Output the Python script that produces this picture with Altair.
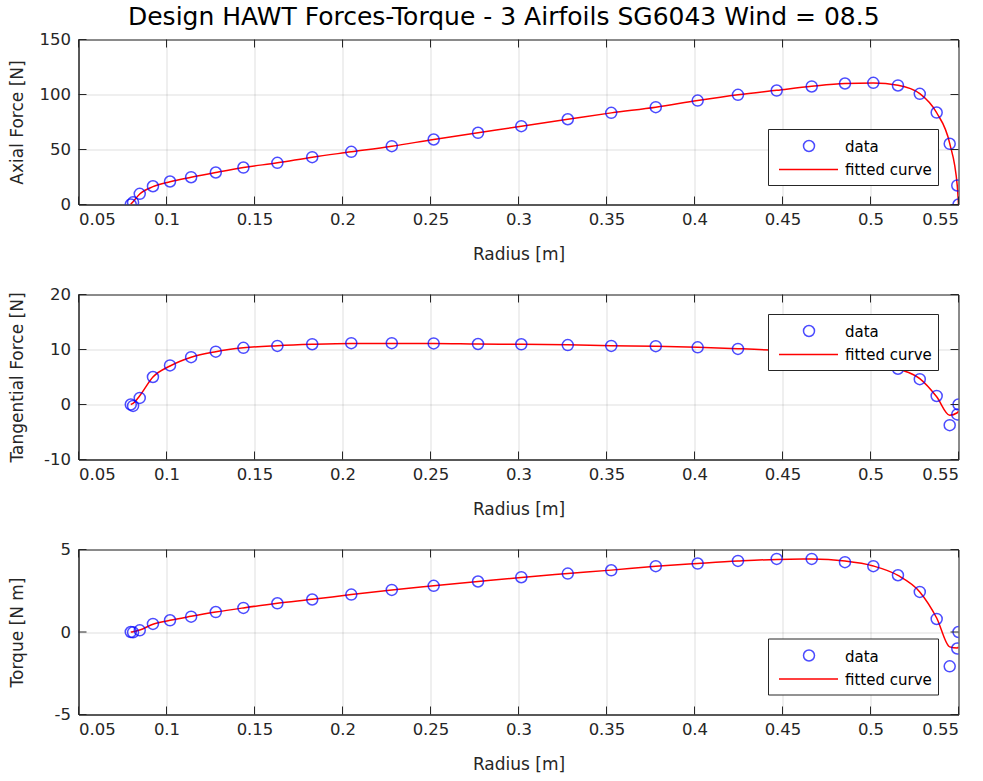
import altair as alt
import pandas as pd

# Blade stations (radius, m)
radius = [0.0797, 0.0810, 0.0848, 0.0923, 0.1020, 0.1140, 0.1280, 0.1437, 0.1630, 0.1828,
          0.2050, 0.2280, 0.2518, 0.2770, 0.3016, 0.3280, 0.3527, 0.3780, 0.4018, 0.4247,
          0.4467, 0.4666, 0.4855, 0.5016, 0.5156, 0.5280, 0.5376, 0.5450, 0.5493, 0.5500]

# Computed loads per station
axial = [0.0, 2.0, 9.7, 16.6, 20.9, 24.8, 29.1, 33.6, 37.9, 43.0,
         47.9, 53.0, 59.1, 65.2, 71.2, 77.5, 83.3, 88.5, 94.5, 99.7,
         103.6, 107.3, 110.0, 110.6, 108.2, 100.6, 83.6, 55.2, 17.3, 0.0]
tangential = [0.0, -0.25, 1.2, 5.0, 7.1, 8.6, 9.6, 10.3, 10.65, 10.96,
              11.15, 11.15, 11.1, 11.0, 10.95, 10.8, 10.65, 10.6, 10.4, 10.1,
              9.9, 9.5, 8.7, 7.95, 6.5, 4.6, 1.55, -3.76, -1.8, 0.0]
torque = [0.0, -0.02, 0.10, 0.49, 0.71, 0.93, 1.21, 1.46, 1.74, 1.97,
          2.27, 2.55, 2.80, 3.06, 3.32, 3.54, 3.74, 3.99, 4.15, 4.31,
          4.43, 4.43, 4.23, 3.99, 3.44, 2.43, 0.79, -2.08, -1.0, 0.0]

# Smoothing-fit values at the same stations
axial_fit = [0.3, 2.6, 9.5, 16.2, 20.7, 24.8, 29.1, 33.6, 37.9, 43.0,
             47.9, 53.0, 59.1, 65.2, 71.2, 77.5, 83.3, 88.5, 94.5, 99.7,
             103.8, 107.5, 110.0, 110.4, 108.4, 100.8, 83.4, 55.5, 17.0, 0.0]
tangential_fit = [0.0, 0.2, 1.6, 5.0, 7.0, 8.6, 9.6, 10.3, 10.7, 10.95,
                  11.1, 11.1, 11.1, 11.0, 10.95, 10.85, 10.7, 10.6, 10.4, 10.15,
                  9.85, 9.45, 8.75, 7.9, 6.5, 4.7, 1.4, -1.95, -1.5, -1.2]
torque_fit = [0.0, 0.02, 0.12, 0.47, 0.71, 0.95, 1.21, 1.46, 1.74, 1.98,
              2.27, 2.55, 2.80, 3.06, 3.31, 3.54, 3.75, 3.98, 4.15, 4.30,
              4.40, 4.42, 4.30, 4.00, 3.43, 2.43, 0.85, -0.90, -0.97, -0.91]

x_ticks = [0.05, 0.1, 0.15, 0.2, 0.25, 0.3, 0.35, 0.4, 0.45, 0.5, 0.55]
axial_ticks = [0, 50, 100, 150]
tangential_ticks = [-10, 0, 10, 20]
torque_ticks = [-5, 0, 5]

TITLE = "Design HAWT Forces-Torque - 3 Airfoils SG6043 Wind = 08.5"
FONT = "DejaVu Sans"
AXIS_COLOR = "#262626"
W, H = 880, 165
TICK_LEN = 8


def panel(values, fit, y_ticks, y_title, legend_top):
    df = pd.DataFrame({"r": radius, "v": values, "fit": fit})
    lo, hi = min(y_ticks), max(y_ticks)
    xs = alt.Scale(domain=[0.05, 0.55], nice=False, zero=False)
    ys = alt.Scale(domain=[lo, hi], nice=False, zero=False)

    x_axis = alt.Axis(values=x_ticks, labelExpr="toString(datum.value)", ticks=False,
                      title="Radius [m]", labelPadding=7, titlePadding=18)
    y_axis = alt.Axis(values=y_ticks, labelExpr="toString(datum.value)", ticks=False,
                      title=y_title, labelPadding=8, titleX=-52)

    base = alt.Chart(df)
    points = base.mark_point(shape="circle", filled=False, size=121, strokeWidth=1.5,
                             color="#0000ff", clip=True).encode(
        x=alt.X("r:Q", scale=xs, axis=x_axis),
        y=alt.Y("v:Q", scale=ys, axis=y_axis),
    )
    curve = base.mark_line(color="#ff0000", strokeWidth=1.5, interpolate="monotone",
                           clip=True).encode(
        x=alt.X("r:Q", scale=xs),
        y=alt.Y("fit:Q", scale=ys),
    )

    # Inward tick marks on all four sides of the box
    xt = alt.Chart(pd.DataFrame({"t": x_ticks}))
    yt = alt.Chart(pd.DataFrame({"t": y_ticks}))
    tick_style = dict(color=AXIS_COLOR, strokeWidth=1)
    ticks = [
        xt.mark_rule(**tick_style).encode(x=alt.X("t:Q", scale=xs), y=alt.value(H), y2=alt.value(H - TICK_LEN)),
        xt.mark_rule(**tick_style).encode(x=alt.X("t:Q", scale=xs), y=alt.value(0), y2=alt.value(TICK_LEN)),
        yt.mark_rule(**tick_style).encode(y=alt.Y("t:Q", scale=ys), x=alt.value(0), x2=alt.value(TICK_LEN)),
        yt.mark_rule(**tick_style).encode(y=alt.Y("t:Q", scale=ys), x=alt.value(W), x2=alt.value(W - TICK_LEN)),
    ]

    # Legend box
    lx0, lx1 = 690, 860
    ly = legend_top
    one = alt.Chart(pd.DataFrame({"k": [0]}))
    legend = [
        one.mark_rect(fill="white", stroke=AXIS_COLOR, strokeWidth=1).encode(
            x=alt.value(lx0), x2=alt.value(lx1), y=alt.value(ly), y2=alt.value(ly + 56)),
        one.mark_point(shape="circle", filled=False, size=121, strokeWidth=1.5, color="#0000ff").encode(
            x=alt.value(730.5), y=alt.value(ly + 16.5)),
        one.mark_rule(color="#ff0000", strokeWidth=1.5).encode(
            x=alt.value(700.5), x2=alt.value(759.5), y=alt.value(ly + 40)),
        one.mark_text(text="data", align="left", baseline="middle", font=FONT, fontSize=15,
                      color="black").encode(x=alt.value(766.5), y=alt.value(ly + 17.5)),
        one.mark_text(text="fitted curve", align="left", baseline="middle", font=FONT, fontSize=15,
                      color="black").encode(x=alt.value(766.5), y=alt.value(ly + 40.5)),
    ]

    return alt.layer(curve, points, *ticks, *legend).properties(width=W, height=H)


p1 = panel(axial, axial_fit, axial_ticks, "Axial Force [N]", 90)
p2 = panel(tangential, tangential_fit, tangential_ticks, "Tangential Force [N]", 20)
p3 = panel(torque, torque_fit, torque_ticks, "Torque [N m]", 89.5)

chart = alt.vconcat(p1, p2, p3, spacing=90, bounds="flush").properties(
    title=alt.TitleParams(TITLE, font=FONT, fontSize=25, fontWeight="normal", color="black",
                          anchor="middle", offset=1, dx=20),
    padding={"left": 7.5, "top": 4.5, "right": 5, "bottom": 3},
    background="white",
).configure_view(
    stroke=AXIS_COLOR, strokeWidth=1
).configure_axis(
    domainColor=AXIS_COLOR, labelColor=AXIS_COLOR, titleColor=AXIS_COLOR,
    labelFont=FONT, titleFont=FONT, labelFontSize=16.5, titleFontSize=17,
    titleFontWeight="normal", gridColor=AXIS_COLOR, gridOpacity=0.15, gridWidth=1,
)

chart.save("out.html", embed_options={"renderer": "svg", "actions": False})
